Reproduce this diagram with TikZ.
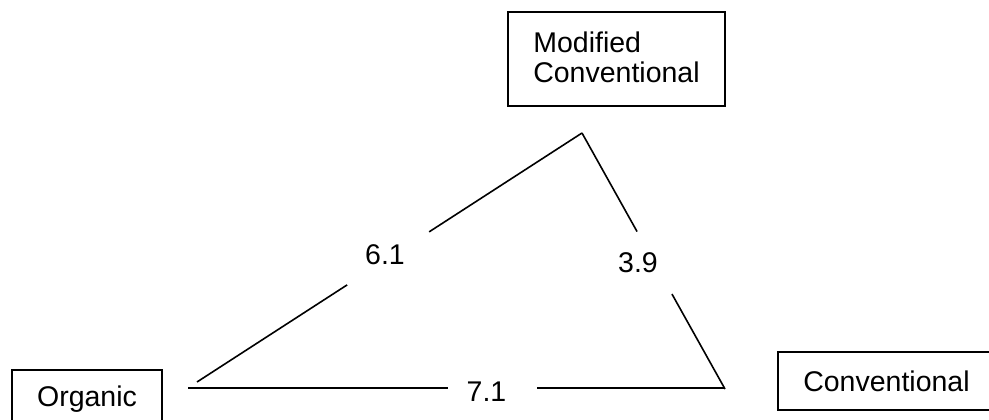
\documentclass[tikz,border=0pt]{standalone}
\usepackage{fontspec}
\setmainfont{Liberation Sans}
\usetikzlibrary{calc}
\tikzset{
  box/.style={draw, line width=1.6pt, inner sep=0pt, align=left, font=\fontsize{28.5}{35}\selectfont},
  edgelbl/.style={inner sep=0pt, font=\fontsize{28.5}{35}\selectfont},
  edge/.style={line width=1.6pt}
}
\begin{document}
\begin{tikzpicture}[x=1pt,y=-1pt]
\useasboundingbox (0,0) rectangle (989,420);
\clip (0,0) rectangle (989,420);
\fill[white] (0,0) rectangle (989,420);
% boxes
\node[box, minimum width=217pt, minimum height=94pt] (mc) at (616.5,59) {\raisebox{3pt}{\shortstack[l]{Modified\\[6pt]Conventional}}};
\node[box, minimum width=150pt, minimum height=58pt] (org) at (87,399) {\raisebox{-3pt}{Organic}};
\node[box, minimum width=224pt, minimum height=58pt] (conv) at (890,381) {\hspace*{-7pt}Conventional};
% triangle vertices
\coordinate (vL) at (197,382);
\coordinate (vB) at (188,388);
\coordinate (vT) at (582,133);
\coordinate (vR) at (725,389);
\coordinate (vRb) at (725,388);
% labels
\node[edgelbl] (l61) at (385,255) {6.1};
\node[edgelbl] (l39) at (638,263) {3.9};
\node[edgelbl] (l71) at (486.5,392) {7.1};
% edges with gaps
\draw[edge] (vL) -- ($(vL)!0.39!(vT)$);
\draw[edge] ($(vL)!0.603!(vT)$) -- (vT);
\draw[edge] (vT) -- ($(vT)!0.385!(vR)$);
\draw[edge] ($(vT)!0.629!(vR)$) -- (vR);
\draw[edge] (vB) -- ($(vB)!0.484!(vRb)$);
\draw[edge] ($(vB)!0.65!(vRb)$) -- (vRb);
\end{tikzpicture}
\end{document}
